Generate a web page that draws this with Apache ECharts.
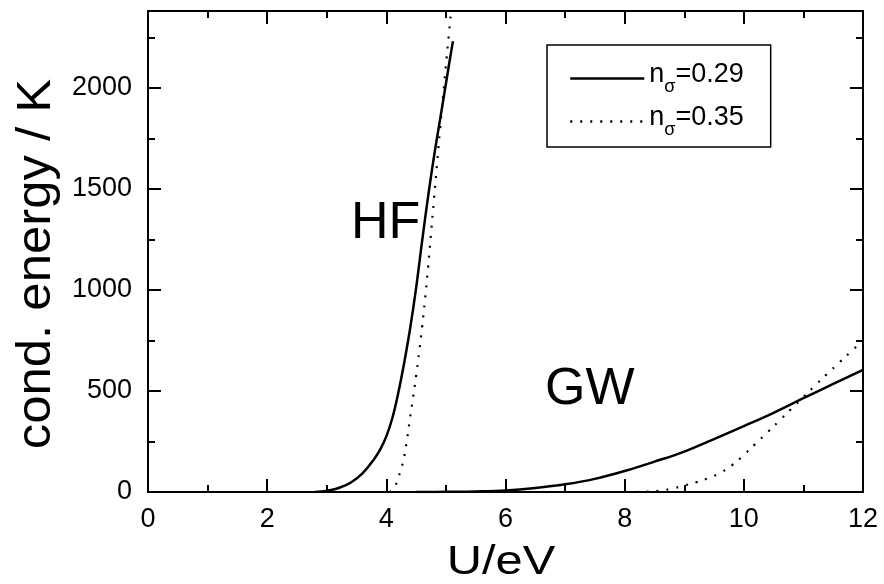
<!DOCTYPE html>
<html><head><meta charset="utf-8">
<script src="https://cdn.jsdelivr.net/npm/echarts@6/dist/echarts.min.js"></script>
<style>html,body{margin:0;padding:0;background:#fff}#c{width:884px;height:584px}</style>
</head><body><div id="c"></div><script>
// ---- data (U in eV, condensation energy in K) ----
const uHF029 = [2.8, 2.9, 3.0, 3.2, 3.4, 3.6, 3.8, 3.9, 4.0, 4.1, 4.2, 4.3, 4.4, 4.5, 4.6, 4.7, 4.8, 4.9, 5.0, 5.1, 5.12];
const eHF029 = [0, 2, 6, 20, 46, 92, 165, 212, 275, 365, 490, 640, 810, 1010, 1240, 1460, 1660, 1840, 2020, 2200, 2230];
const uHF035 = [4.05, 4.1, 4.15, 4.2, 4.25, 4.3, 4.35, 4.4, 4.45, 4.5, 4.55, 4.6, 4.65, 4.7, 4.75, 4.8, 4.85, 4.9, 5.0, 5.1];
const eHF035 = [0, 8, 30, 70, 115, 175, 265, 370, 470, 575, 690, 815, 955, 1110, 1280, 1450, 1620, 1790, 2110, 2420];
const uGW029 = [4.5, 5.0, 5.5, 6.0, 6.5, 7.0, 7.5, 8.0, 8.5, 9.0, 9.5, 10.0, 10.5, 11.0, 11.5, 12.0];
const eGW029 = [0, 1, 3, 8, 20, 38, 65, 104, 150, 200, 262, 326, 392, 464, 535, 604];
const uGW035 = [8.2, 8.4, 8.6, 8.8, 9.0, 9.2, 9.4, 9.6, 9.8, 10.0, 10.2, 10.4, 10.6, 10.8, 11.0, 11.2, 11.4, 11.6, 11.8, 12.0];
const eGW035 = [0, 2, 7, 17, 32, 48, 68, 94, 132, 183, 240, 296, 354, 412, 470, 528, 585, 640, 695, 750];
const seriesNames = ['n\u03c3=0.29', 'n\u03c3=0.35'];
const legendValues = ['0.29', '0.35'];
const xTicks = [0, 2, 4, 6, 8, 10, 12];
const yTicks = [0, 500, 1000, 1500, 2000];
const annotations = ['HF', 'GW'];
const xTitle = 'U/eV';
const yTitle = 'cond. energy / K';

const zip = (a, b) => a.map((v, i) => [v, b[i]]);
const FONT = '"Liberation Sans", Arial, Helvetica, sans-serif';
const BLACK = '#000';

const chart = echarts.init(document.getElementById('c'), null, {renderer: 'canvas'});

const xBase = {
  type: 'value', min: xTicks[0], max: xTicks[xTicks.length - 1], interval: xTicks[1] - xTicks[0],
  axisLine: {show: true, onZero: false, lineStyle: {color: BLACK, width: 2}},
  axisTick: {show: true, inside: true, length: 13, lineStyle: {color: BLACK, width: 2}},
  minorTick: {show: true, splitNumber: 2, length: 7, lineStyle: {color: BLACK, width: 2}},
  splitLine: {show: false}, minorSplitLine: {show: false}
};
const yMax = 2380;
function yAxisDef(pos, major, labels) {
  return {
    type: 'value', position: pos, min: 0, max: yMax, interval: major ? 500 : 250,
    axisLine: {show: true, onZero: false, lineStyle: {color: BLACK, width: 2}},
    axisTick: {show: true, inside: true, length: major ? 13 : 7, lineStyle: {color: BLACK, width: 2}},
    axisLabel: labels ? {show: true, color: BLACK, fontSize: 27, fontFamily: FONT, margin: 16, showMaxLabel: false,
      formatter: v => yTicks.includes(v) ? String(v) : ''} : {show: false},
    splitLine: {show: false}
  };
}
function line(name, u, e, dotted) {
  return {name: name, type: 'line', data: zip(u, e), showSymbol: false, symbol: 'none',
    smooth: 0.4, itemStyle: {color: BLACK}, clip: true,
    lineStyle: dotted ? {color: BLACK, width: 2.2, type: [2, 8]} : {color: BLACK, width: 2.5, type: 'solid'}};
}

const option = {
  backgroundColor: '#fff',
  animation: false,
  grid: {left: 148, right: 21, top: 11, bottom: 92, containLabel: false},
  xAxis: [
    Object.assign({}, xBase, {position: 'bottom',
      axisLabel: {show: true, color: BLACK, fontSize: 27, fontFamily: FONT, margin: 14}}),
    Object.assign({}, xBase, {position: 'top', axisLabel: {show: false}})
  ],
  yAxis: [
    yAxisDef('left', true, true),
    yAxisDef('left', false, false),
    yAxisDef('right', true, false),
    yAxisDef('right', false, false)
  ],
  legend: {
    orient: 'vertical', left: 547, top: 45,
    data: seriesNames,
    itemWidth: 74, itemHeight: 26, itemGap: 8,
    padding: [16, 27, 8, 22],
    borderColor: BLACK, borderWidth: 1.5, backgroundColor: '#fff',
    selectedMode: false,
    itemStyle: {opacity: 0},
    lineStyle: {width: 2.5},
    formatter: name => '{n|n}{s|\u03c3}{n|=' + legendValues[seriesNames.indexOf(name)] + '}',
    textStyle: {
      color: BLACK, fontFamily: FONT, fontSize: 27,
      rich: {
        n: {fontSize: 27, fontFamily: FONT, color: BLACK, verticalAlign: 'top', padding: [0, 0, 8, 0]},
        s: {fontSize: 18, fontFamily: FONT, color: BLACK, verticalAlign: 'bottom'}
      }
    }
  },
  graphic: [
    {type: 'text', left: 351, top: 198, style: {text: annotations[0], font: '52px ' + FONT, fill: BLACK}},
    {type: 'text', left: 545, top: 364, style: {text: annotations[1], font: '52px ' + FONT, fill: BLACK}},
    {type: 'text', x: 501, y: 563, scaleX: 1.22, style: {text: xTitle, font: '40px ' + FONT, fill: BLACK, align: 'center', verticalAlign: 'middle'}},
    {type: 'text', x: 37, y: 264, rotation: Math.PI / 2, scaleX: 1.06,
      style: {text: yTitle, font: '48px ' + FONT, fill: BLACK, align: 'center', verticalAlign: 'middle'}}
  ],
  series: [
    line(seriesNames[0], uHF029, eHF029, false),
    line(seriesNames[1], uHF035, eHF035, true),
    line(seriesNames[0], uGW029, eGW029, false),
    line(seriesNames[1], uGW035, eGW035, true)
  ]
};
chart.setOption(option);
</script></body></html>
